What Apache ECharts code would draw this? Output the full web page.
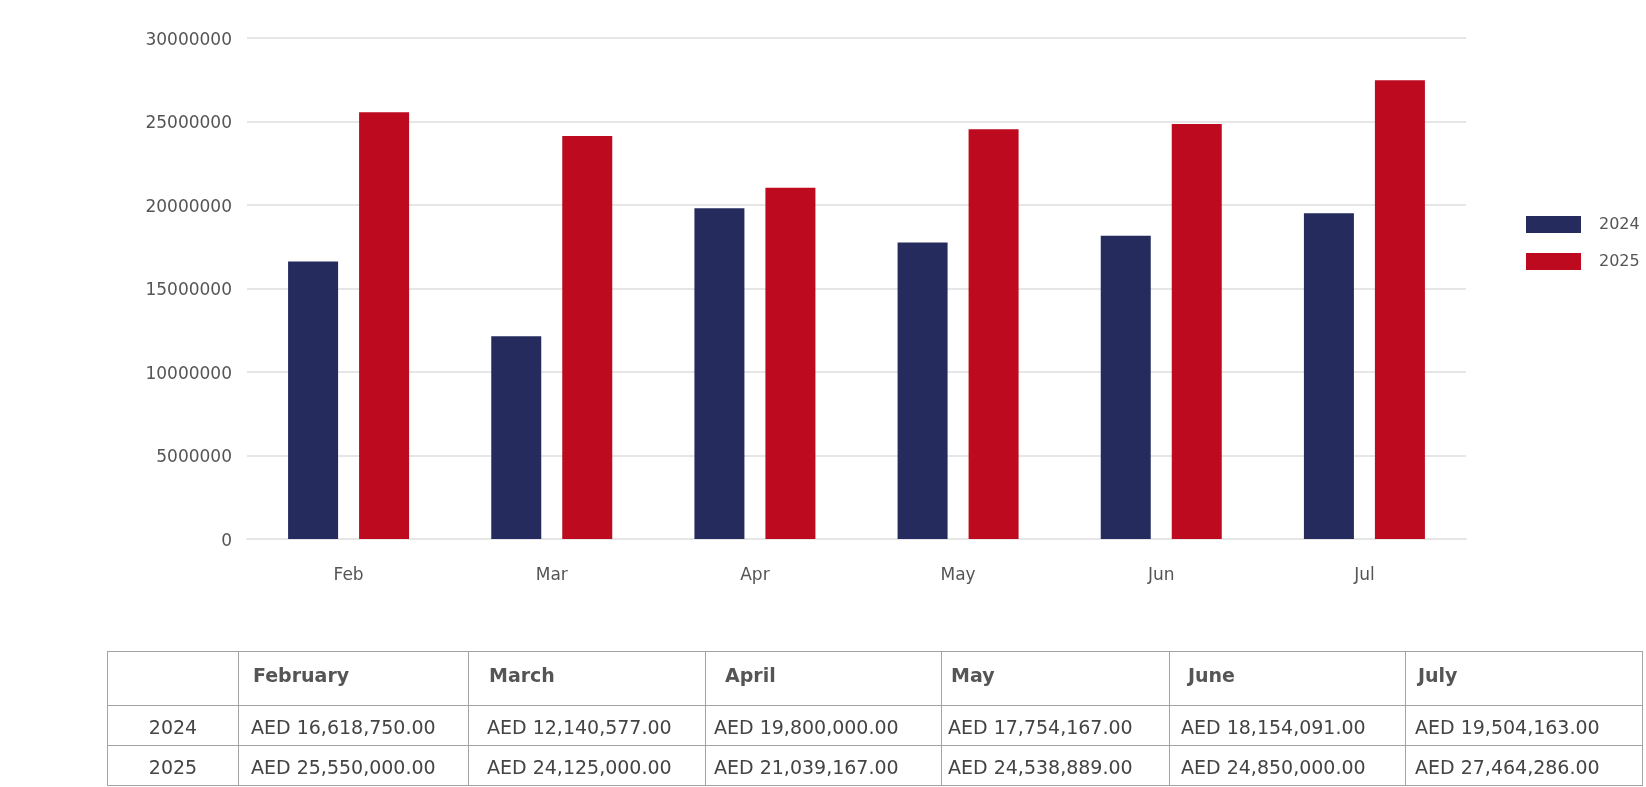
<!DOCTYPE html>
<html>
<head>
<meta charset="utf-8">
<script src="https://cdn.jsdelivr.net/npm/echarts@6/dist/echarts.min.js"></script>
<style>
  html, body { margin: 0; padding: 0; background: #fff; }
  #wrap { position: relative; width: 1646px; height: 787px; overflow: hidden; }
  #chart { position: absolute; left: 0; top: 0; width: 1646px; height: 787px; }
  #tbl { position: absolute; left: 107px; top: 651px; border-collapse: collapse; table-layout: fixed;
         font-family: 'DejaVu Sans', sans-serif; font-size: 19px; color: #444; }
  #tbl td { border: 1px solid #a3a3a3; padding: 0; white-space: nowrap; overflow: hidden; box-sizing: border-box; }
  #tbl tr.head td { height: 54px; font-weight: bold; color: #555; vertical-align: middle; padding-bottom: 7px; }
  #tbl tr.val td { height: 40px; vertical-align: middle; padding-top: 2px; }
  #tbl td.yr { text-align: center; }
</style>
</head>
<body>
<div id="wrap">
  <div id="chart"></div>
  <table id="tbl"></table>
</div>
<script>
// ---- data ----
const categories = ['Feb', 'Mar', 'Apr', 'May', 'Jun', 'Jul'];
const tableMonths = ['February', 'March', 'April', 'May', 'June', 'July'];
const seriesNames = ['2024', '2025'];
const values2024 = [16618750, 12140577, 19800000, 17754167, 18154091, 19504163];
const values2025 = [25550000, 24125000, 21039167, 24538889, 24850000, 27464286];
const currency = 'AED';

// ---- layout / style constants ----
const colWidths = [131, 230, 237, 236, 228, 236, 237];
const headPad = [0, 14, 20, 19, 9, 18, 12];
const valPad = [0, 12, 18, 8, 6, 11, 9];
const colors = ['#252b5c', '#be0a1e'];

// ---- chart ----
const chart = echarts.init(document.getElementById('chart'), null, { renderer: 'canvas' });
chart.setOption({
  animation: false,
  textStyle: { fontFamily: 'DejaVu Sans' },
  grid: { left: 247, right: 180, top: 38, bottom: 248, containLabel: false },
  legend: {
    orient: 'vertical', left: 1526, top: 216, itemWidth: 55, itemHeight: 17, itemGap: 20,
    icon: 'rect', padding: 0,
    textStyle: { fontSize: 16, color: '#555', fontFamily: 'DejaVu Sans', padding: [0, 0, 0, 13] },
    data: seriesNames
  },
  xAxis: {
    type: 'category', data: categories,
    axisLine: { show: true, lineStyle: { color: '#e6e6e6', width: 2 } },
    axisTick: { show: false },
    axisLabel: { fontSize: 17, color: '#555', margin: 28, fontFamily: 'DejaVu Sans' }
  },
  yAxis: {
    type: 'value', min: 0, max: 30000000, interval: 5000000,
    axisLine: { show: false }, axisTick: { show: false },
    splitLine: { lineStyle: { color: '#e6e6e6', width: 2 } },
    axisLabel: {
      margin: 15,
      formatter: v => '{t|' + v + '}',
      rich: { t: { fontSize: 17, color: '#555', fontFamily: 'DejaVu Sans', padding: [5, 0, 0, 0] } }
    }
  },
  series: [
    { name: seriesNames[0], type: 'bar', data: values2024, barWidth: 50, barGap: '42%', itemStyle: { color: colors[0] } },
    { name: seriesNames[1], type: 'bar', data: values2025, barWidth: 50, barGap: '42%', itemStyle: { color: colors[1] } }
  ]
});

// ---- table ----
function fmt(v) {
  return currency + ' ' + v.toLocaleString('en-US', { minimumFractionDigits: 2, maximumFractionDigits: 2 });
}
const tbl = document.getElementById('tbl');
const cg = document.createElement('colgroup');
colWidths.forEach(w => { const c = document.createElement('col'); c.style.width = w + 'px'; cg.appendChild(c); });
tbl.appendChild(cg);
tbl.style.width = colWidths.reduce((a, b) => a + b, 0) + 'px';

const head = document.createElement('tr');
head.className = 'head';
const h0 = document.createElement('td'); head.appendChild(h0);
tableMonths.forEach((m, i) => {
  const td = document.createElement('td');
  td.textContent = m;
  td.style.paddingLeft = headPad[i + 1] + 'px';
  head.appendChild(td);
});
tbl.appendChild(head);

[values2024, values2025].forEach((vals, r) => {
  const tr = document.createElement('tr');
  tr.className = 'val';
  const y = document.createElement('td');
  y.className = 'yr';
  y.textContent = seriesNames[r];
  tr.appendChild(y);
  vals.forEach((v, i) => {
    const td = document.createElement('td');
    td.textContent = fmt(v);
    td.style.paddingLeft = valPad[i + 1] + 'px';
    tr.appendChild(td);
  });
  tbl.appendChild(tr);
});
</script>
</body>
</html>
